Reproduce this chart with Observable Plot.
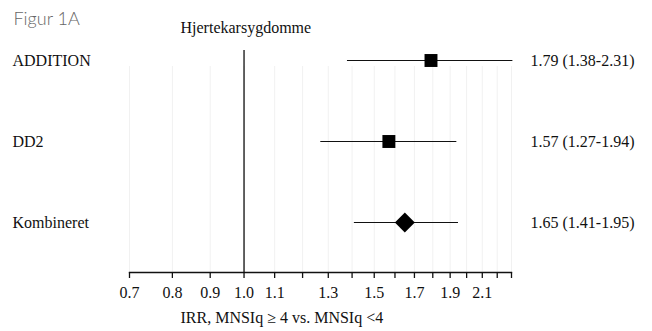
<!DOCTYPE html>
<html><head><meta charset="utf-8">
<script src="https://cdn.jsdelivr.net/npm/d3@7"></script>
<script src="https://cdn.jsdelivr.net/npm/@observablehq/plot@0.6"></script>
<style>body{margin:0;background:#fff}</style>
</head><body><div id="chart"></div>
<script>
const studies = ["ADDITION", "DD2", "Kombineret"];
const estimates = [1.79, 1.57, 1.65];
const lower = [1.38, 1.27, 1.41];
const upper = [2.31, 1.94, 1.95];
const kinds = ["study", "study", "pooled"];
const xTicks = [0.7, 0.8, 0.9, 1.0, 1.1, 1.2, 1.3, 1.4, 1.5, 1.6, 1.7, 1.8, 1.9, 2.0, 2.1, 2.2, 2.3];
const xTickLabels = ["0.7", "0.8", "0.9", "1.0", "1.1", "", "1.3", "", "1.5", "", "1.7", "", "1.9", "", "2.1", "", ""];
const figLabel = "Figur 1A";
const title = "Hjertekarsygdomme";
const xLabel = "IRR, MNSIq \u2265 4 vs. MNSIq <4";
const refValue = [1];

const f2 = d => d.toFixed(2);
const rows = studies.map((s, i) => ({
  label: s, est: estimates[i], lo: lower[i], hi: upper[i], kind: kinds[i],
  text: `${f2(estimates[i])} (${f2(lower[i])}-${f2(upper[i])})`
}));
const tickLabel = new Map(xTicks.map((t, i) => [t, xTickLabels[i]]));

const chart = Plot.plot({
  width: 652, height: 331,
  marginLeft: 129, marginRight: 141, marginTop: 50, marginBottom: 59,
  style: {fontFamily: "'Liberation Serif', 'Times New Roman', serif", fontSize: "16px", color: "#111", background: "#fff"},
  x: {type: "log", domain: [0.7, 2.3]},
  y: {type: "point", domain: studies, padding: 0, insetTop: 10, insetBottom: 50, axis: null},
  symbol: {domain: ["study", "pooled"], range: ["square", "diamond2"]},
  marks: [
    Plot.ruleX(xTicks, {stroke: "#f1f1f1", strokeWidth: 1, insetTop: 16}),
    Plot.ruleX(refValue, {stroke: "#111", strokeWidth: 1.3}),
    Plot.frame({anchor: "bottom", stroke: "#111", strokeWidth: 1.3}),
    Plot.axisX({ticks: xTicks, tickSize: 6, tickPadding: 8, tickFormat: d => tickLabel.get(d) ?? "", label: null, stroke: "#111", strokeWidth: 1.3, fill: "#111"}),
    Plot.ruleY(rows, {y: "label", x1: "lo", x2: "hi", stroke: "#111", strokeWidth: 1.2}),
    Plot.dot(rows, {filter: d => d.kind === "study", x: "est", y: "label", symbol: "kind", r: 7.3, fill: "#000"}),
    Plot.dot(rows, {filter: d => d.kind === "pooled", x: "est", y: "label", symbol: "kind", r: 9, fill: "#000"}),
    Plot.text(rows, {y: "label", text: "label", frameAnchor: "left", textAnchor: "start", dx: -117, fill: "#111"}),
    Plot.text(rows, {y: "label", text: "text", frameAnchor: "right", textAnchor: "start", dx: 19, fill: "#111"}),
    Plot.text([title], {text: d => d, frameAnchor: "top-left", textAnchor: "start", dx: 51, dy: -29, fill: "#111"}),
    Plot.text([xLabel], {text: d => d, frameAnchor: "bottom-left", textAnchor: "start", dx: 51, dy: 50, fill: "#111"}),
    Plot.text([figLabel], {text: d => d, frameAnchor: "top-left", textAnchor: "start", dx: -116, dy: -38, fontFamily: "Lato, 'Open Sans', sans-serif", fontWeight: 300, fontSize: 18, fill: "#666"})
  ]
});
document.getElementById("chart").append(chart);
</script>
</body></html>
